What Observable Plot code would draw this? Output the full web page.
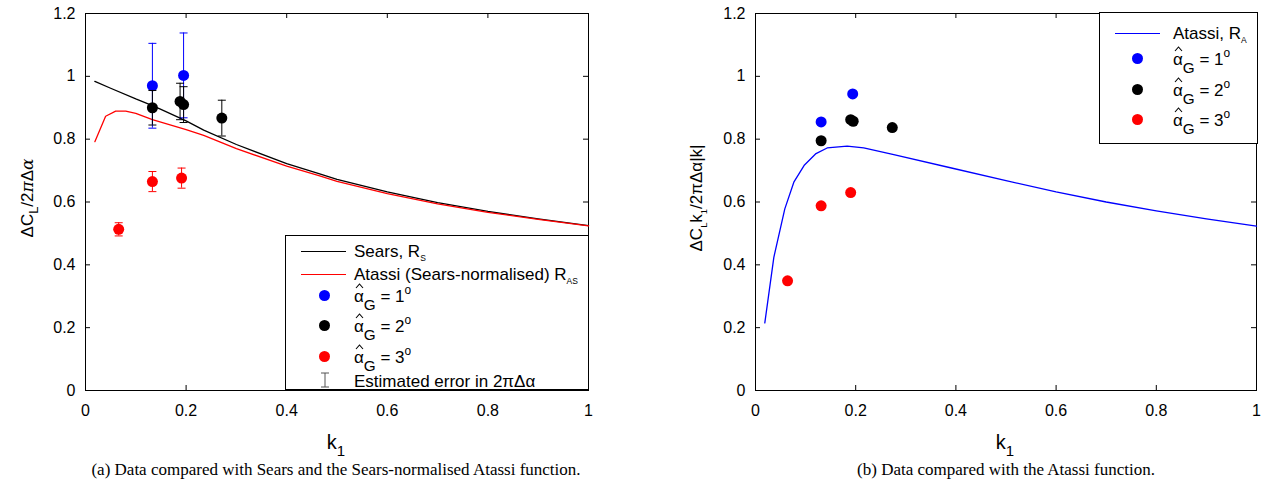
<!DOCTYPE html>
<html><head><meta charset="utf-8">
<script src="https://cdn.jsdelivr.net/npm/d3@7"></script>
<script src="https://cdn.jsdelivr.net/npm/@observablehq/plot@0.6"></script>
<style>
body{margin:0;background:#fff;width:1270px;height:483px;position:relative;overflow:hidden;font-family:"Liberation Sans",Arial,sans-serif;color:#000;}
.abs{position:absolute;white-space:nowrap;}
.leg{position:absolute;border:1px solid #000;background:#fff;box-sizing:border-box;}
.lt{position:absolute;font-size:17px;line-height:1;white-space:nowrap;}
.ls{position:absolute;height:0;border-top:1.3px solid;}
.ld{position:absolute;width:11px;height:11px;border-radius:50%;}
.ylab{position:absolute;font-size:17px;white-space:nowrap;transform:translate(-50%,-50%) rotate(-90deg);}
.xlab{position:absolute;font-size:20px;white-space:nowrap;transform:translateX(-50%);}
.cap{position:absolute;font-family:"Liberation Serif","Times New Roman",serif;font-size:17px;white-space:nowrap;transform:translateX(-50%);}
sub,sup{line-height:0;}
.ah{position:relative;display:inline-block;}
.ah svg{position:absolute;left:1px;top:-5px;}
</style></head><body>
<div id="left" class="abs" style="left:0;top:0"></div>
<div id="right" class="abs" style="left:670px;top:0"></div>
<script>
// ---------- data ----------
const xTicks = [0, 0.2, 0.4, 0.6, 0.8, 1];
const yTicks = [0, 0.2, 0.4, 0.6, 0.8, 1, 1.2];

// Left panel: Sears and Sears-normalised Atassi curves
const searsK = [0.0186, 0.05, 0.1, 0.133, 0.15, 0.2, 0.235, 0.3, 0.4, 0.464, 0.5, 0.6, 0.7, 0.8, 0.9, 1.0];
const searsV = [0.984, 0.962, 0.928, 0.907, 0.895, 0.858, 0.829, 0.783, 0.722, 0.690, 0.672, 0.632, 0.598, 0.570, 0.546, 0.525];
const atassiNK = [0.0186, 0.04, 0.06, 0.08, 0.1, 0.133, 0.2, 0.235, 0.3, 0.4, 0.464, 0.5, 0.6, 0.7, 0.8, 0.9, 1.0];
const atassiNV = [0.792, 0.873, 0.889, 0.889, 0.882, 0.862, 0.830, 0.812, 0.770, 0.714, 0.684, 0.666, 0.627, 0.594, 0.567, 0.545, 0.524];

// Left panel data points with estimated error (half-width)
const lA1K = [0.133, 0.195], lA1V = [0.970, 1.003], lA1E = [0.135, 0.135];
const lA2K = [0.133, 0.188, 0.195, 0.271], lA2V = [0.900, 0.920, 0.910, 0.867], lA2E = [0.055, 0.058, 0.057, 0.057];
const lA3K = [0.066, 0.133, 0.191], lA3V = [0.513, 0.665, 0.676], lA3E = [0.021, 0.032, 0.032];

// Right panel: Atassi curve
const atassiK = [0.0186, 0.0366, 0.0585, 0.0765, 0.0978, 0.1198, 0.143, 0.183, 0.216, 0.276, 0.389, 0.5, 0.6, 0.7, 0.8, 0.9, 1.0];
const atassiV = [0.215, 0.424, 0.578, 0.663, 0.718, 0.753, 0.772, 0.778, 0.772, 0.751, 0.709, 0.668, 0.632, 0.600, 0.572, 0.546, 0.523];

// Right panel data points
const rA1K = [0.131, 0.194], rA1V = [0.855, 0.944];
const rA2K = [0.131, 0.190, 0.195, 0.273], rA2V = [0.795, 0.862, 0.857, 0.837];
const rA3K = [0.064, 0.131, 0.190], rA3V = [0.349, 0.588, 0.630];

// ---------- helpers ----------
const zip = (k, v, e) => k.map((d, i) => ({k: d, v: v[i], e: e ? e[i] : 0}));
const fmt = d => String(+(+d).toFixed(1));
const cap = {draw(ctx, size) { const w = Math.sqrt(size / Math.PI); ctx.moveTo(-w, 0); ctx.lineTo(w, 0); }};
const TL = 5; // inward tick length in pixels

function frameAxes(pw, ph, xDom, yDom) {
  const dx = TL * (xDom[1] - xDom[0]) / pw, dy = TL * (yDom[1] - yDom[0]) / ph;
  return [
    Plot.frame({stroke: "black", strokeWidth: 1}),
    Plot.axisX({ticks: xTicks, tickSize: 0, tickPadding: 14, tickFormat: fmt, label: null, fontSize: 16}),
    Plot.axisY({ticks: yTicks, tickSize: 0, tickPadding: 10, tickFormat: fmt, label: null, fontSize: 16}),
    Plot.ruleX(xTicks, {x: d => d, y1: yDom[0], y2: yDom[0] + dy, stroke: "black", strokeWidth: 1}),
    Plot.ruleX(xTicks, {x: d => d, y1: yDom[1] - dy, y2: yDom[1], stroke: "black", strokeWidth: 1}),
    Plot.ruleY(yTicks, {y: d => d, x1: xDom[0], x2: xDom[0] + dx, stroke: "black", strokeWidth: 1}),
    Plot.ruleY(yTicks, {y: d => d, x1: xDom[1] - dx, x2: xDom[1], stroke: "black", strokeWidth: 1})
  ];
}
function errMarks(data, color) {
  return [
    Plot.ruleX(data, {x: "k", y1: d => d.v - d.e, y2: d => d.v + d.e, stroke: color, strokeWidth: 1}),
    Plot.dot(data, {x: "k", y: d => d.v + d.e, symbol: cap, r: 4, stroke: color, fill: "none", strokeWidth: 1}),
    Plot.dot(data, {x: "k", y: d => d.v - d.e, symbol: cap, r: 4, stroke: color, fill: "none", strokeWidth: 1})
  ];
}
const dotMark = (data, color) => Plot.dot(data, {x: "k", y: "v", r: 5.5, fill: color, stroke: "none"});
const style = {fontFamily: "'Liberation Sans', Arial, sans-serif", fontSize: "16px", color: "black", background: "transparent", overflow: "visible"};
const xDom = [xTicks[0], xTicks[xTicks.length - 1]], yDom = [yTicks[0], yTicks[yTicks.length - 1]];

const l1 = zip(lA1K, lA1V, lA1E), l2 = zip(lA2K, lA2V, lA2E), l3 = zip(lA3K, lA3V, lA3E);
const leftPlot = Plot.plot({
  width: 635, height: 425, marginLeft: 85, marginRight: 47, marginTop: 13, marginBottom: 35,
  x: {domain: xDom}, y: {domain: yDom}, style,
  marks: [
    ...frameAxes(635 - 85 - 47, 425 - 13 - 35, xDom, yDom),
    Plot.line(zip(searsK, searsV), {x: "k", y: "v", stroke: "black", strokeWidth: 1.3}),
    Plot.line(zip(atassiNK, atassiNV), {x: "k", y: "v", stroke: "#ff0000", strokeWidth: 1.3}),
    ...errMarks(l1, "#0000ff"), dotMark(l1, "#0000ff"),
    ...errMarks(l2, "black"), dotMark(l2, "black"),
    ...errMarks(l3, "#ff0000"), dotMark(l3, "#ff0000")
  ]
});
document.getElementById("left").append(leftPlot);

const rightPlot = Plot.plot({
  width: 600, height: 425, marginLeft: 85, marginRight: 14, marginTop: 13, marginBottom: 35,
  x: {domain: xDom}, y: {domain: yDom}, style,
  marks: [
    ...frameAxes(600 - 85 - 14, 425 - 13 - 35, xDom, yDom),
    Plot.line(zip(atassiK, atassiV), {x: "k", y: "v", stroke: "#0000ff", strokeWidth: 1.3}),
    dotMark(zip(rA1K, rA1V), "#0000ff"),
    dotMark(zip(rA2K, rA2V), "black"),
    dotMark(zip(rA3K, rA3V), "#ff0000")
  ]
});
document.getElementById("right").append(rightPlot);
</script>

<div class="ylab" style="left:27px;top:198px;">ΔC<sub style="font-size:0.75em;vertical-align:-0.45em">L</sub>/2<span style="font-family:'DejaVu Serif',serif;font-style:italic">π</span>Δ<span style="font-family:'DejaVu Serif',serif;font-style:italic">α</span></div>
<div class="ylab" style="left:697px;top:198px;">ΔC<sub style="font-size:0.55em;vertical-align:-0.5em">L</sub>k<sub style="font-size:0.55em;vertical-align:-0.5em">1</sub>/2πΔα|k|</div>
<div class="xlab" style="left:336px;top:431px;">k<sub style="font-size:0.75em;vertical-align:-0.45em">1</sub></div>
<div class="xlab" style="left:1005px;top:431px;">k<sub style="font-size:0.75em;vertical-align:-0.45em">1</sub></div>
<div class="cap" style="left:336px;top:460px;">(a) Data compared with Sears and the Sears-normalised Atassi function.</div>
<div class="cap" style="left:1006px;top:460px;">(b) Data compared with the Atassi function.</div>

<div class="leg" style="left:285px;top:235px;width:304px;height:155px;">
  <div class="ls" style="left:15px;top:15px;width:45px;border-color:#000"></div>
  <div class="lt" style="left:68px;top:7px;">Sears, R<sub style="font-size:0.5em">S</sub></div>
  <div class="ls" style="left:15px;top:38px;width:45px;border-color:#f00"></div>
  <div class="lt" style="left:68px;top:30px;">Atassi (Sears-normalised) R<sub style="font-size:0.5em">AS</sub></div>
  <div class="ld" style="left:33px;top:54px;background:#00f"></div>
  <div class="lt" style="left:68px;top:52px;" data-ag="1"></div>
  <div class="ld" style="left:33px;top:84px;background:#000"></div>
  <div class="lt" style="left:68px;top:82px;" data-ag="2"></div>
  <div class="ld" style="left:33px;top:115px;background:#f00"></div>
  <div class="lt" style="left:68px;top:113px;" data-ag="3"></div>
  <svg style="position:absolute;left:32px;top:136px" width="14" height="18"><path d="M3,1H11M7,1V15M3,15H11" stroke="#555" fill="none" stroke-width="1"/></svg>
  <div class="lt" style="left:68px;top:137px;">Estimated error in 2πΔα</div>
</div>

<div class="leg" style="left:1099px;top:12px;width:159px;height:132px;">
  <div class="ls" style="left:15px;top:20px;width:45px;border-color:#00f"></div>
  <div class="lt" style="left:73px;top:12px;">Atassi, R<sub style="font-size:0.5em">A</sub></div>
  <div class="ld" style="left:32px;top:40px;background:#00f"></div>
  <div class="lt" style="left:73px;top:38px;" data-ag="1"></div>
  <div class="ld" style="left:32px;top:71px;background:#000"></div>
  <div class="lt" style="left:73px;top:69px;" data-ag="2"></div>
  <div class="ld" style="left:32px;top:101px;background:#f00"></div>
  <div class="lt" style="left:73px;top:99px;" data-ag="3"></div>
</div>
<script>
document.querySelectorAll("[data-ag]").forEach(el => {
  el.innerHTML = `<span class="ah">α<svg width="9" height="6"><path d="M1,5L4.5,1L8,5" fill="none" stroke="#000" stroke-width="1.1"/></svg></span><sub style="font-size:0.9em;vertical-align:-0.5em">G</sub> = ${el.dataset.ag}<sup style="font-size:0.7em;vertical-align:0.7em">o</sup>`;
});
</script>
</body></html>
